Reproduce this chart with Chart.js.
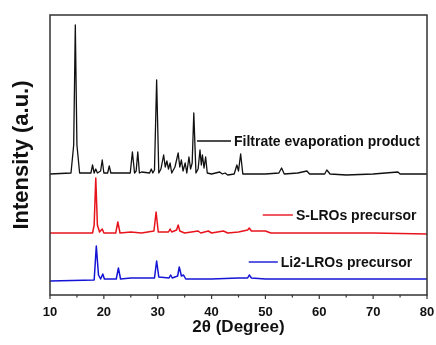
<!DOCTYPE html>
<html lang="en">
<head>
  <meta charset="UTF-8">
  <title>XRD patterns</title>
  <script src="https://cdn.jsdelivr.net/npm/chart.js"></script>
  <style>
    body { margin: 0; background: #fff; }
    canvas { display: block; }
  </style>
</head>
<body>
  <canvas id="xrdChart" width="436" height="345"></canvas>

  <script>
    // 2θ positions and stacked intensities (a.u.)
    const filtrateAngle = [10.0, 13.9, 14.4, 14.7, 15.0, 15.5, 17.6, 17.9, 18.2, 18.5, 18.8, 19.4, 19.7, 20.0, 20.7, 21.0, 21.3,
      24.9, 25.3, 25.7, 26.0, 26.3, 26.6, 27.0, 28.5, 28.8, 29.1, 29.4, 29.8, 30.2, 30.6, 31.1, 31.4, 31.7, 32.0, 32.3, 32.6,
      33.2, 33.8, 34.1, 34.4, 34.7, 35.1, 35.4, 35.8, 36.1, 36.4, 36.7, 37.1, 37.5, 37.85, 38.1, 38.3, 38.6, 38.9, 39.2,
      40.0, 41.5, 42.0, 42.5, 43.0, 44.2, 44.7, 45.0, 45.4, 45.8, 47.0, 50.0, 52.5, 53.0, 53.5, 56.0, 57.7, 58.2,
      61.0, 61.4, 62.0, 65.0, 70.0, 74.6, 75.0, 80.0];
    const filtrateInt = [121, 122, 150, 270, 150, 122, 122, 130, 122, 126, 122, 124, 135, 122, 122, 129, 122,
      122, 143, 122, 124, 143, 122, 123, 122, 126, 122, 125, 215, 122, 126, 140, 128, 134, 126, 132, 122,
      128, 142, 128, 135, 124, 132, 122, 138, 126, 132, 182, 122, 126, 145, 130, 140, 127, 138, 122,
      121, 123, 121, 122, 120, 121, 130, 124, 141, 121, 121, 121, 122, 127, 121, 122, 124, 121,
      121, 125, 121, 120, 121, 123, 121, 121];

    const sLroAngle = [10.0, 17.9, 18.2, 18.5, 18.8, 19.2, 19.7, 20.0, 22.2, 22.6, 23.0, 25.0, 27.0, 29.3, 29.7, 30.1,
      32.0, 32.3, 32.6, 33.5, 33.8, 34.1, 35.0, 37.5, 38.0, 39.4, 40.0, 42.2, 43.0, 45.0, 46.7, 47.0, 47.4, 50.0, 51.0,
      60.0, 70.0, 80.0];
    const sLroInt = [62, 62, 70, 117, 70, 63, 66, 62, 62, 73, 62, 63, 62, 64, 83, 63,
      63, 66, 63, 65, 70, 64, 62, 64, 62, 64, 62, 64, 62, 63, 65, 67, 64, 64, 62,
      62, 62, 61];

    const li2LroAngle = [10.0, 18.2, 18.6, 19.0, 19.4, 19.8, 20.1, 22.3, 22.7, 23.1, 25.0, 29.4, 29.8, 30.2,
      32.1, 32.4, 32.7, 33.7, 34.0, 34.4, 34.8, 35.2, 40.0, 45.0, 46.7, 47.0, 47.4, 50.0, 60.0, 70.0, 80.0];
    const li2LroInt = [14, 15, 49, 20, 16, 21, 16, 16, 27, 16, 17, 17, 34, 18,
      17, 20, 17, 19, 28, 19, 20, 16, 16, 17, 17, 20, 17, 16, 16, 16, 16];

    const seriesNames = ['Filtrate evaporation product', 'S-LROs precursor', 'Li2-LROs precursor'];
    const seriesColors = ['#111111', '#e8141c', '#1414d6'];
    const xTicks = [10, 20, 30, 40, 50, 60, 70, 80];

    function toPoints(xs, ys) {
      return xs.map((x, i) => ({ x: x, y: ys[i] }));
    }

    // where each series name is written (data units): line start, line end, height
    const labelSpots = [
      { x0: 37.3, x1: 43.6, y: 154 },
      { x0: 49.5, x1: 55.1, y: 80 },
      { x0: 46.9, x1: 52.3, y: 33 }
    ];

    const fontFamily = "'Liberation Sans', Arial, sans-serif";

    // frame, bottom tick marks and in-plot series labels
    const decorations = {
      id: 'decorations',
      afterDatasetsDraw(chart) {
        const ctx = chart.ctx;
        const area = chart.chartArea;
        const xs = chart.scales.x;
        const ys = chart.scales.y;
        ctx.save();
        ctx.strokeStyle = '#333';
        ctx.lineWidth = 1.5;
        ctx.strokeRect(area.left, area.top, area.right - area.left, area.bottom - area.top);

        ctx.lineWidth = 1.2;
        for (let v = 10; v <= 80; v += 5) {
          const px = xs.getPixelForValue(v);
          const len = v % 10 === 0 ? 4 : 2.5;
          ctx.beginPath();
          ctx.moveTo(px, area.bottom);
          ctx.lineTo(px, area.bottom + len);
          ctx.stroke();
        }

        ctx.font = 'bold 14px ' + fontFamily;
        ctx.textBaseline = 'middle';
        ctx.fillStyle = '#111';
        labelSpots.forEach((s, i) => {
          const y = ys.getPixelForValue(s.y);
          const a = xs.getPixelForValue(s.x0);
          const b = xs.getPixelForValue(s.x1);
          ctx.strokeStyle = seriesColors[i];
          ctx.lineWidth = 1.4;
          ctx.beginPath();
          ctx.moveTo(a, y);
          ctx.lineTo(b, y);
          ctx.stroke();
          ctx.fillText(seriesNames[i], b + 3, y + 1);
        });
        ctx.restore();
      }
    };

    new Chart(document.getElementById('xrdChart'), {
      type: 'line',
      data: {
        datasets: [
          { label: seriesNames[0], data: toPoints(filtrateAngle, filtrateInt), borderColor: seriesColors[0], borderWidth: 1.3 },
          { label: seriesNames[1], data: toPoints(sLroAngle, sLroInt), borderColor: seriesColors[1], borderWidth: 1.5 },
          { label: seriesNames[2], data: toPoints(li2LroAngle, li2LroInt), borderColor: seriesColors[2], borderWidth: 1.5 }
        ]
      },
      options: {
        responsive: false,
        animation: false,
        devicePixelRatio: 1,
        layout: { padding: { top: 15, right: 9, left: 0, bottom: 0 } },
        elements: { point: { radius: 0 }, line: { tension: 0, borderJoinStyle: 'round' } },
        plugins: { legend: { display: false }, tooltip: { enabled: false } },
        scales: {
          x: {
            type: 'linear',
            min: 10,
            max: 80,
            afterBuildTicks: (scale) => { scale.ticks = xTicks.map(v => ({ value: v })); },
            afterFit: (scale) => { scale.height = 50; scale.paddingLeft = 0; scale.paddingRight = 0; },
            grid: { display: false },
            border: { display: false },
            ticks: { color: '#111', padding: 2, maxRotation: 0, font: { family: fontFamily, size: 13, weight: 'bold' } },
            title: {
              display: true,
              text: '2θ (Degree)',
              color: '#111',
              padding: { top: 0, bottom: 7 },
              font: { family: fontFamily, size: 17, weight: 'bold' }
            }
          },
          y: {
            min: 0,
            max: 280,
            afterFit: (scale) => { scale.width = 50; scale.paddingTop = 0; scale.paddingBottom = 0; },
            grid: { display: false },
            border: { display: false },
            ticks: { display: false },
            title: {
              display: true,
              text: 'Intensity (a.u.)',
              color: '#111',
              padding: { top: 9, bottom: 0 },
              font: { family: fontFamily, size: 22, weight: 'bold' }
            }
          }
        }
      },
      plugins: [decorations]
    });
  </script>
</body>
</html>
